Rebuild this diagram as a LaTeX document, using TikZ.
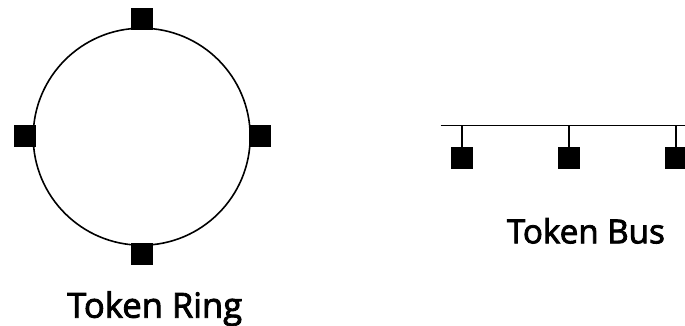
\documentclass[tikz,border=0pt]{standalone}
\usepackage{fontspec}
\setmainfont{Open Sans}[FakeBold=2.5]
\begin{document}
\begin{tikzpicture}[x=1pt,y=-1pt,
  station/.style={fill=black,draw=none,minimum size=22pt,inner sep=0pt,outer sep=0pt,rectangle},
  wire/.style={line width=1.6pt,black},
  lbl/.style={anchor=base west,inner sep=0pt}]
\useasboundingbox (0,0) rectangle (685,326);
% ring
\node[circle,draw,line width=1.6pt,minimum size=217pt,inner sep=0pt] (ring) at (141.7,136.7) {};
\node[station] (rt) at (142,19) {};
\node[station] (rb) at (142,253.5) {};
\node[station] (rl) at (24.7,136) {};
\node[station] (rr) at (259.5,136) {};
\node[lbl] (ringlbl) at (67,317.7) {\resizebox{175pt}{!}{Token Ring}};
% bus
\coordinate (busL) at (440.7,125.7);
\coordinate (busR) at (690,125.7);
\draw[wire] (busL) -- (busR);
\node[station] (b1) at (462,158) {};
\node[station] (b2) at (568.7,158) {};
\node[station] (b3) at (675.7,158) {};
\foreach \b in {b1,b2,b3} \draw[wire] (\b.north) -- (\b.north |- busL);
\node[lbl] (buslbl) at (506.7,243.3) {\resizebox{158pt}{!}{Token Bus}};
\end{tikzpicture}
\end{document}
